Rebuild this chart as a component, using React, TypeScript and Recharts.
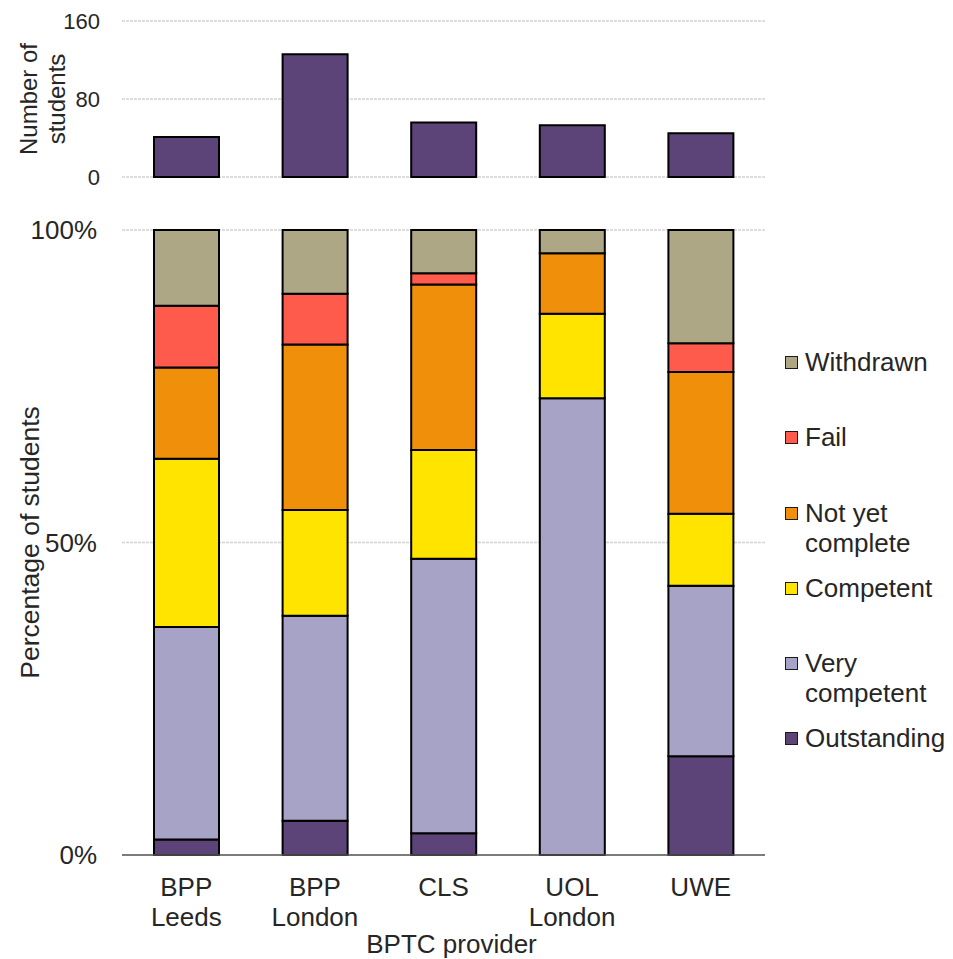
import { Bar, BarChart, CartesianGrid, Label, Legend, XAxis, YAxis } from 'recharts';

const providers = ['BPP Leeds', 'BPP London', 'CLS', 'UOL London', 'UWE'];
const studentCounts = [41, 126, 56, 53, 45];

// percentage of students per outcome, bottom of stack first
const outstanding = [2.5, 5.5, 3.5, 0, 15.8];
const veryCompetent = [34.0, 32.8, 43.9, 73.1, 27.3];
const competent = [26.9, 16.9, 17.4, 13.5, 11.5];
const notYetComplete = [14.6, 26.5, 26.5, 9.7, 22.7];
const fail = [9.9, 8.1, 1.8, 0, 4.6];
const withdrawn = [12.1, 10.2, 6.9, 3.7, 18.1];

const countTicks = [0, 80, 160];
const pctTicks = [0, 50, 100];

const SERIES = [
  { key: 'outstanding', label: 'Outstanding', color: '#5C4479', values: outstanding },
  { key: 'veryCompetent', label: 'Very competent', color: '#A7A3C6', values: veryCompetent },
  { key: 'competent', label: 'Competent', color: '#FFE400', values: competent },
  { key: 'notYetComplete', label: 'Not yet complete', color: '#F0900A', values: notYetComplete },
  { key: 'fail', label: 'Fail', color: '#FF5B4D', values: fail },
  { key: 'withdrawn', label: 'Withdrawn', color: '#ADA785', values: withdrawn },
];

const countData = providers.map((provider, i) => ({ provider, count: studentCounts[i] }));
const pctData = providers.map((provider, i) => {
  const row: Record<string, string | number> = { provider };
  SERIES.forEach((s) => {
    row[s.key] = s.values[i];
  });
  return row;
});

const FONT = '"Liberation Sans", Arial, sans-serif';
const TEXT = '#262626';
const GRID = '#d4d4d4';
const AXIS = '#595959';
const BAR_PURPLE = '#5C4479';

function ProviderTick({ x, y, payload }: any) {
  const lines = String(payload.value).split(' ');
  return (
    <text x={x} y={y} textAnchor="middle" fill={TEXT} fontSize={26} fontFamily={FONT}>
      {lines.map((line, i) => (
        <tspan key={i} x={x} dy={i === 0 ? 41 : 30}>
          {line}
        </tspan>
      ))}
    </text>
  );
}

function RotatedTitle({ viewBox, lines, gap, inset, size }: any) {
  const cx = viewBox.x - inset;
  const cy = viewBox.y + viewBox.height / 2;
  return (
    <text
      x={cx}
      y={cy}
      transform={`rotate(-90, ${cx}, ${cy})`}
      textAnchor="middle"
      fill={TEXT}
      fontSize={size}
      fontFamily={FONT}
    >
      {lines.map((line: string, i: number) => (
        <tspan key={line} x={cx} dy={i === 0 ? 0 : gap}>
          {line}
        </tspan>
      ))}
    </text>
  );
}

function OutcomeLegend() {
  const items = [...SERIES].reverse();
  return (
    <div style={{ width: 168, fontFamily: FONT, fontSize: 26, color: TEXT }}>
      {items.map((s) => (
        <div key={s.key} style={{ height: 75.3, display: 'flex', alignItems: 'flex-start' }}>
          <span
            style={{
              width: 11,
              height: 11,
              marginTop: 9,
              marginRight: 7,
              flex: 'none',
              background: s.color,
              border: '1.5px solid #1a1a1a',
            }}
          />
          <span style={{ lineHeight: '30px', width: 150 }}>{s.label}</span>
        </div>
      ))}
    </div>
  );
}

export default function App() {
  return (
    <div
      style={{
        position: 'absolute',
        left: 0,
        top: 0,
        width: 953,
        height: 959,
        background: '#fff',
        fontFamily: FONT,
      }}
    >
      <div style={{ position: 'absolute', left: 0, top: 0 }}>
        <BarChart
          width={953}
          height={192}
          data={countData}
          margin={{ top: 21, right: 188, bottom: 15, left: 62 }}
        >
          <CartesianGrid vertical={false} stroke={GRID} strokeWidth={1.5} strokeDasharray="3 1" />
          <XAxis
            dataKey="provider"
            height={0}
            tick={false}
            tickLine={false}
            axisLine={{ stroke: AXIS, strokeWidth: 1.5 }}
          />
          <YAxis
            width={60}
            domain={[0, 160]}
            ticks={countTicks}
            interval={0}
            axisLine={false}
            tickLine={false}
            tickSize={0}
            tickMargin={22}
            tick={{ fill: TEXT, fontSize: 22, fontFamily: FONT }}
          >
            <Label
              content={(props: any) => (
                <RotatedTitle
                  viewBox={props.viewBox}
                  lines={['Number of', 'students']}
                  gap={28}
                  inset={25}
                  size={24}
                />
              )}
            />
          </YAxis>
          <Bar
            dataKey="count"
            fill={BAR_PURPLE}
            stroke="#000"
            strokeWidth={2}
            barSize={65}
            isAnimationActive={false}
          />
        </BarChart>
      </div>

      <div style={{ position: 'absolute', left: 0, top: 200 }}>
        <BarChart
          width={953}
          height={759}
          data={pctData}
          margin={{ top: 30, right: 188, bottom: 4, left: 62 }}
        >
          <CartesianGrid vertical={false} stroke={GRID} strokeWidth={1.5} strokeDasharray="3 1" />
          <XAxis
            dataKey="provider"
            height={100}
            interval={0}
            tickLine={false}
            tickSize={0}
            tickMargin={0}
            axisLine={{ stroke: AXIS, strokeWidth: 1.5 }}
            tick={<ProviderTick />}
          >
            <Label
              content={(props: any) => {
                const vb = props.viewBox;
                return (
                  <text
                    x={vb.x + vb.width / 2 + 8}
                    y={vb.y + vb.height - 2}
                    textAnchor="middle"
                    fill={TEXT}
                    fontSize={26}
                    fontFamily={FONT}
                  >
                    BPTC provider
                  </text>
                );
              }}
            />
          </XAxis>
          <YAxis
            width={60}
            domain={[0, 100]}
            ticks={pctTicks}
            interval={0}
            axisLine={false}
            tickLine={false}
            tickSize={0}
            tickMargin={25}
            tickFormatter={(v) => `${v}%`}
            tick={{ fill: TEXT, fontSize: 26, fontFamily: FONT }}
          >
            <Label
              content={(props: any) => (
                <RotatedTitle
                  viewBox={props.viewBox}
                  lines={['Percentage of students']}
                  gap={0}
                  inset={23}
                  size={26.5}
                />
              )}
            />
          </YAxis>
          <Legend
            layout="vertical"
            align="center"
            verticalAlign="middle"
            content={<OutcomeLegend />}
            wrapperStyle={{ left: 785, top: 147, width: 168 }}
          />
          {SERIES.map((s) => (
            <Bar
              key={s.key}
              dataKey={s.key}
              name={s.label}
              stackId="outcome"
              fill={s.color}
              stroke="#000"
              strokeWidth={2}
              barSize={65}
              isAnimationActive={false}
            />
          ))}
        </BarChart>
      </div>
    </div>
  );
}
